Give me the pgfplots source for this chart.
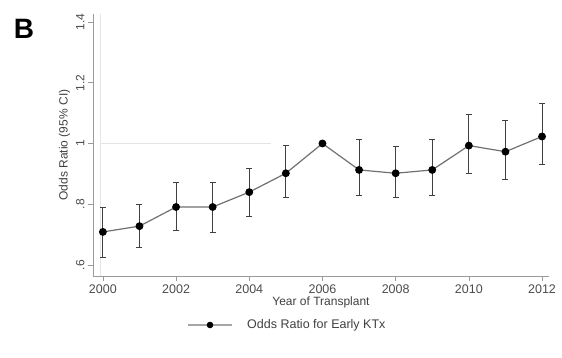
\documentclass[border=0pt]{standalone}
\usepackage{pgfplots}
\pgfplotsset{compat=1.18}
\usepackage{pgfplotstable}
\usepackage{fontspec}
\setmainfont{Liberation Sans}
\definecolor{axgray}{HTML}{9A9A9A}
\definecolor{lngray}{HTML}{707070}
\definecolor{refgray}{HTML}{E4E4E4}
\pgfplotstableread{
year or lo hi
2000 0.709 0.626 0.788
2001 0.728 0.657 0.800
2002 0.791 0.715 0.871
2003 0.791 0.706 0.871
2004 0.840 0.759 0.919
2005 0.902 0.822 0.993
2006 1.000 1.000 1.000
2007 0.913 0.830 1.012
2008 0.902 0.822 0.991
2009 0.913 0.828 1.012
2010 0.993 0.902 1.094
2011 0.973 0.882 1.077
2012 1.023 0.932 1.132
}\ortable
\begin{document}
\begin{tikzpicture}[x=1pt,y=1pt]
\useasboundingbox (0,0) rectangle (562,358);
\node[font=\bfseries\fontsize{28}{30}\selectfont] at (24,329) {B};
\begin{axis}[
  at={(93pt,82pt)}, anchor=south west,
  scale only axis, width=456pt, height=262pt,
  xmin=1999.73, xmax=2012.19,
  ymin=0.564, ymax=1.426,
  axis lines=left,
  axis line style={-, axgray, line width=0.9pt},
  xtick={2000,2002,...,2012},
  ytick={0.6,0.8,1,1.2,1.4},
  yticklabels={.6,.8,1,1.2,1.4},
  xticklabel style={/pgf/number format/1000 sep={}, font=\fontsize{12.5}{14}\selectfont, text=black!70},
  yticklabel style={rotate=90, anchor=south, font=\fontsize{12}{14}\selectfont, text=black!70},
  /pgf/number format/assume math mode=true,
  tick style={axgray, line width=0.7pt},
  tick align=outside,
  major tick length=5pt,
  xlabel={Year of Transplant},
  ylabel={Odds Ratio (95\% CI)},
  xlabel style={font=\fontsize{12}{14}\selectfont, text=black!75, yshift=3pt},
  ylabel style={font=\fontsize{12}{14}\selectfont, text=black!75, yshift=-1pt},
  clip=false,
]
\addplot[refgray, line width=1pt, forget plot] coordinates {(1999.92,1) (2004.6,1)};
\addplot[black!10, line width=0.6pt, forget plot] coordinates {(1999.92,0.564) (1999.92,1.426)};
\addplot[lngray, line width=1.2pt, mark=*, mark size=3.3pt,
  mark options={black, fill=black},
  error bars/.cd, y dir=both, y explicit,
  error bar style={black!75, line width=0.9pt},
  error mark options={rotate=90, black!75, mark size=3pt, line width=0.9pt}]
  table[x=year, y=or, y error plus expr=\thisrow{hi}-\thisrow{or}, y error minus expr=\thisrow{or}-\thisrow{lo}] {\ortable};
\end{axis}
\draw[black!35, line width=1.2pt] (188,33) -- (232,33);
\fill[black] (210,33) circle (3.3pt);
\node[anchor=west, font=\fontsize{12.5}{14}\selectfont, text=black!75, inner sep=0pt] at (247,33) {Odds Ratio for Early KTx};
\end{tikzpicture}
\end{document}
